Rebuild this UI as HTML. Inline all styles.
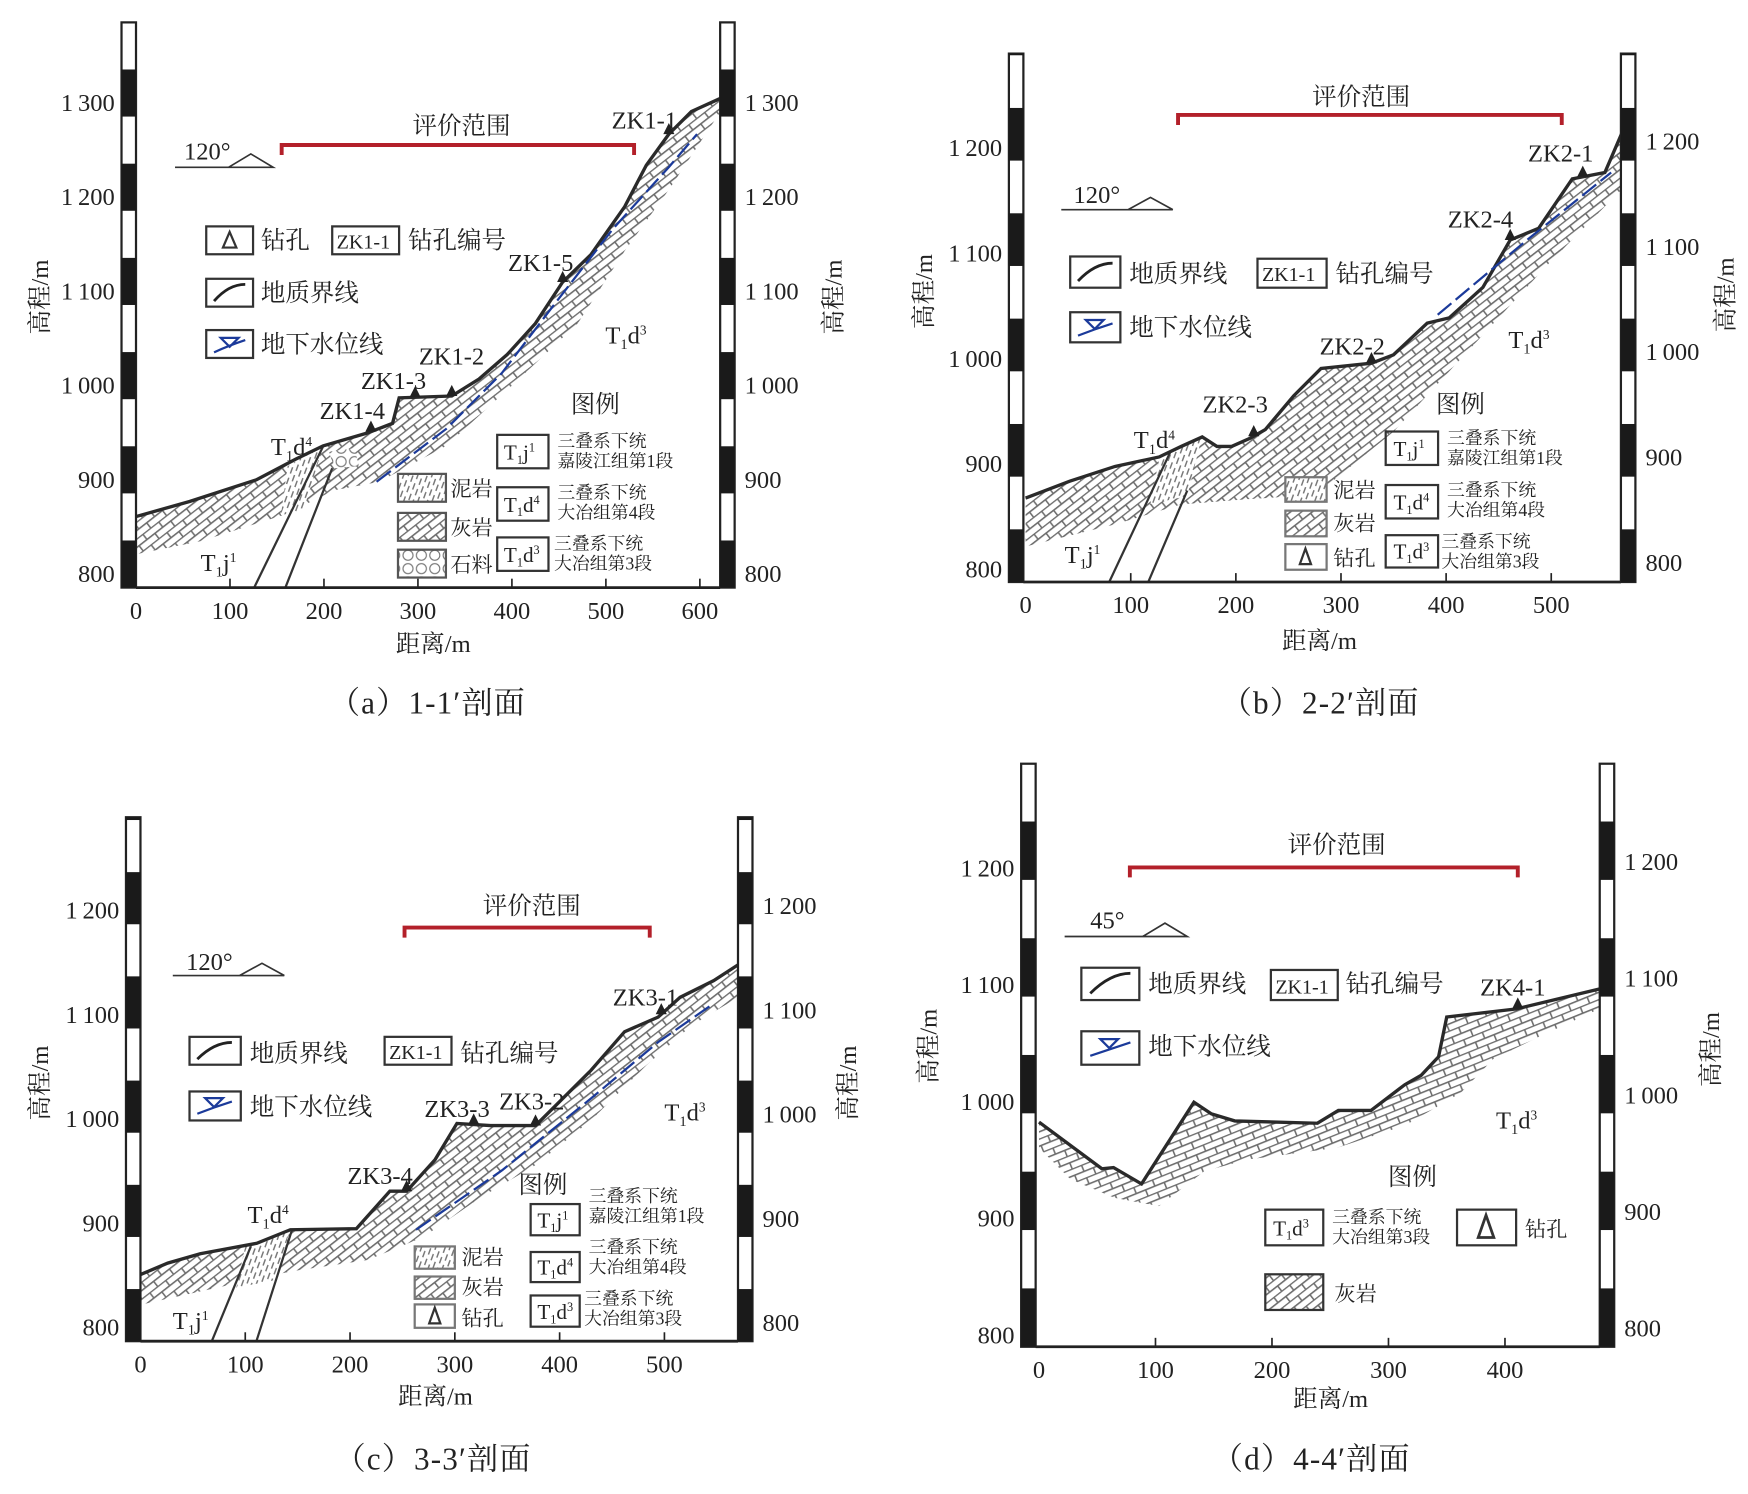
<!DOCTYPE html>
<html><head><meta charset="utf-8"><style>
html,body{margin:0;padding:0;background:#fff}
svg{display:block}
text{font-family:"Liberation Serif","Noto Serif CJK SC",serif;fill:#222}
.t{font-size:22px}
.c{font-family:"Liberation Serif","Noto Serif CJK SC",serif;font-size:22px}
.s{font-size:16px}
.cap{font-size:28px;letter-spacing:1px}
</style></head><body>
<svg id="fig" width="1748" height="1494" viewBox="0 0 1568 1340" xmlns="http://www.w3.org/2000/svg">
<defs>
<pattern id="lime" width="18" height="12" patternUnits="userSpaceOnUse" patternTransform="rotate(-38)">
<rect width="18" height="12" fill="#fff"/><path d="M0 0.5H18M0 6.5H18M4 0.5V6.5M13 6.5V12" stroke="#6e6e6e" stroke-width="1.4" fill="none"/></pattern>
<pattern id="limed" width="18" height="12" patternUnits="userSpaceOnUse" patternTransform="rotate(-22)">
<rect width="18" height="12" fill="#fff"/><path d="M0 0.5H18M0 6.5H18M4 0.5V6.5M13 6.5V12" stroke="#6e6e6e" stroke-width="1.4" fill="none"/></pattern>
<pattern id="mud" width="8" height="10" patternUnits="userSpaceOnUse" patternTransform="rotate(20)">
<rect width="8" height="10" fill="#fff"/><path d="M2 0V6M6 4V10" stroke="#777" stroke-width="1.3"/></pattern>
<pattern id="stone" width="12" height="12" patternUnits="userSpaceOnUse">
<rect width="12" height="12" fill="#fff"/><circle cx="6" cy="6" r="4.5" stroke="#777" fill="none"/></pattern>
</defs>
<g id="root"></g>

<g>
<text class="cap" x="295" y="640">（a）1-1′剖面</text>
<text class="t" x="355" y="585">距离/m</text>
<text class="t" transform="translate(43,300) rotate(-90)">高程/m</text>
<text class="t" transform="translate(755,300) rotate(-90)">高程/m</text>
<text class="t" x="370" y="120">评价范围</text>
<text class="t" x="165" y="143">120°</text>
<path d="M157 150H245L225 138L205 150" stroke="#333" fill="none" stroke-width="1.5"/>
<rect x="185" y="203" width="42" height="25" fill="none" stroke="#333" stroke-width="2"/>
<path d="M206 208L200 222H212Z" fill="none" stroke="#333" stroke-width="2"/>
<text class="t" x="234" y="223">钻孔</text>
<rect x="298" y="203" width="60" height="25" fill="none" stroke="#333" stroke-width="2"/>
<text x="302" y="223" style="font-size:18px">ZK1-1</text>
<text class="t" x="366" y="223">钻孔编号</text>
<rect x="185" y="250" width="42" height="25" fill="none" stroke="#333" stroke-width="2"/>
<path d="M192 270Q205 255 220 255" stroke="#222" stroke-width="2.5" fill="none"/>
<text class="t" x="234" y="270">地质界线</text>
<rect x="185" y="296" width="42" height="25" fill="none" stroke="#333" stroke-width="2"/>
<path d="M192 316Q205 310 220 305M198 303H214L206 311Z" stroke="#1b3a9a" stroke-width="2" fill="none"/>
<text class="t" x="234" y="316">地下水位线</text>
<text x="578" y="115" class="t" text-anchor="middle">ZK1-1</text>
<text x="485" y="243" class="t" text-anchor="middle">ZK1-5</text>
<text x="405" y="327" class="t" text-anchor="middle">ZK1-2</text>
<text x="353" y="349" class="t" text-anchor="middle">ZK1-3</text>
<text x="316" y="376" class="t" text-anchor="middle">ZK1-4</text>
<text x="243" y="408" class="t">T<tspan font-size="13" dy="5">1</tspan><tspan dy="-5">d</tspan><tspan font-size="12" dy="-8">4</tspan></text>
<text x="180" y="512" class="t">T<tspan font-size="13" dy="5">1</tspan><tspan dy="-5">j</tspan><tspan font-size="12" dy="-8">1</tspan></text>
<text x="543" y="308" class="t">T<tspan font-size="13" dy="5">1</tspan><tspan dy="-5">d</tspan><tspan font-size="12" dy="-8">3</tspan></text>
<text x="512" y="370" class="t">图例</text>
<rect x="446" y="390" width="46" height="30" fill="none" stroke="#333" stroke-width="2"/><text x="452" y="412" style="font-size:19px">T<tspan font-size="11" dy="4">1</tspan><tspan dy="-4">j</tspan><tspan font-size="11" dy="-7">1</tspan></text>
<text class="s" x="500" y="401">三叠系下统</text><text class="s" x="500" y="419">嘉陵江组第1段</text>
<rect x="446" y="437" width="46" height="30" fill="none" stroke="#333" stroke-width="2"/><text x="452" y="459" style="font-size:19px">T<tspan font-size="11" dy="4">1</tspan><tspan dy="-4">d</tspan><tspan font-size="11" dy="-7">4</tspan></text>
<text class="s" x="500" y="447">三叠系下统</text><text class="s" x="500" y="465">大冶组第4段</text>
<rect x="446" y="482" width="46" height="30" fill="none" stroke="#333" stroke-width="2"/><text x="452" y="504" style="font-size:19px">T<tspan font-size="11" dy="4">1</tspan><tspan dy="-4">d</tspan><tspan font-size="11" dy="-7">3</tspan></text>
<text class="s" x="497" y="493">三叠系下统</text><text class="s" x="497" y="511">大冶组第3段</text>
<rect x="357" y="425" width="43" height="25" fill="url(#mud)" stroke="#555" stroke-width="2"/><text class="c" x="404" y="445" style="font-size:19px">泥岩</text>
<rect x="357" y="460" width="43" height="25" fill="url(#lime)" stroke="#555" stroke-width="2"/><text class="c" x="404" y="480" style="font-size:19px">灰岩</text>
<rect x="357" y="493" width="43" height="25" fill="url(#stone)" stroke="#555" stroke-width="2"/><text class="c" x="404" y="513" style="font-size:19px">石料</text>
</g>

<g>
<text class="cap" x="1095" y="640">（b）2-2′剖面</text>
<text class="t" x="1150" y="582">距离/m</text>
<text class="t" transform="translate(836,295) rotate(-90)">高程/m</text>
<text class="t" transform="translate(1555,298) rotate(-90)">高程/m</text>
<text class="t" x="1177" y="94">评价范围</text>
<text class="t" x="963" y="182">120°</text>
<path d="M952 188H1052L1032 177L1012 188" stroke="#333" fill="none" stroke-width="1.5"/>
<rect x="960" y="230" width="45" height="28" fill="none" stroke="#333" stroke-width="2"/>
<path d="M967 252Q982 236 998 236" stroke="#222" stroke-width="2.5" fill="none"/>
<text class="t" x="1013" y="253">地质界线</text>
<rect x="1128" y="232" width="62" height="26" fill="none" stroke="#333" stroke-width="2"/>
<text x="1132" y="252" style="font-size:18px">ZK1-1</text>
<text class="t" x="1198" y="253">钻孔编号</text>
<rect x="960" y="280" width="45" height="27" fill="none" stroke="#333" stroke-width="2"/>
<path d="M967 301Q982 295 998 290M974 287H990L982 295Z" stroke="#1b3a9a" stroke-width="2" fill="none"/>
<text class="t" x="1013" y="301">地下水位线</text>
<text x="1400" y="145" class="t" text-anchor="middle">ZK2-1</text>
<text x="1328" y="204" class="t" text-anchor="middle">ZK2-4</text>
<text x="1213" y="318" class="t" text-anchor="middle">ZK2-2</text>
<text x="1108" y="370" class="t" text-anchor="middle">ZK2-3</text>
<text x="1017" y="402" class="t">T<tspan font-size="13" dy="5">1</tspan><tspan dy="-5">d</tspan><tspan font-size="12" dy="-8">4</tspan></text>
<text x="955" y="505" class="t">T<tspan font-size="13" dy="5">1</tspan><tspan dy="-5">j</tspan><tspan font-size="12" dy="-8">1</tspan></text>
<text x="1353" y="312" class="t">T<tspan font-size="13" dy="5">1</tspan><tspan dy="-5">d</tspan><tspan font-size="12" dy="-8">3</tspan></text>
<text x="1288" y="370" class="t">图例</text>
<rect x="1243" y="387" width="47" height="30" fill="none" stroke="#333" stroke-width="2"/><text x="1250" y="409" style="font-size:19px">T<tspan font-size="11" dy="4">1</tspan><tspan dy="-4">j</tspan><tspan font-size="11" dy="-7">1</tspan></text>
<text class="s" x="1298" y="398">三叠系下统</text><text class="s" x="1298" y="416">嘉陵江组第1段</text>
<rect x="1243" y="435" width="47" height="30" fill="none" stroke="#333" stroke-width="2"/><text x="1250" y="457" style="font-size:19px">T<tspan font-size="11" dy="4">1</tspan><tspan dy="-4">d</tspan><tspan font-size="11" dy="-7">4</tspan></text>
<text class="s" x="1298" y="445">三叠系下统</text><text class="s" x="1298" y="463">大冶组第4段</text>
<rect x="1243" y="480" width="47" height="29" fill="none" stroke="#333" stroke-width="2"/><text x="1250" y="501" style="font-size:19px">T<tspan font-size="11" dy="4">1</tspan><tspan dy="-4">d</tspan><tspan font-size="11" dy="-7">3</tspan></text>
<text class="s" x="1293" y="491">三叠系下统</text><text class="s" x="1293" y="509">大冶组第3段</text>
<rect x="1153" y="428" width="37" height="22" fill="url(#mud)" stroke="#777" stroke-width="2"/><text class="c" x="1196" y="446" style="font-size:19px">泥岩</text>
<rect x="1153" y="458" width="37" height="23" fill="url(#lime)" stroke="#777" stroke-width="2"/><text class="c" x="1196" y="476" style="font-size:19px">灰岩</text>
<rect x="1153" y="488" width="37" height="23" fill="none" stroke="#777" stroke-width="2"/><path d="M1171 492L1166 506H1176Z" fill="none" stroke="#333" stroke-width="2"/><text class="c" x="1196" y="507" style="font-size:19px">钻孔</text>
</g>

<g>
<text class="cap" x="300" y="1318">（c）3-3′剖面</text>
<text class="t" x="357" y="1260">距离/m</text>
<text class="t" transform="translate(43,1005) rotate(-90)">高程/m</text>
<text class="t" transform="translate(768,1005) rotate(-90)">高程/m</text>
<text class="t" x="433" y="820">评价范围</text>
<text class="t" x="167" y="870">120°</text>
<path d="M155 875H255L235 864L215 875" stroke="#333" fill="none" stroke-width="1.5"/>
<rect x="170" y="930" width="46" height="25" fill="none" stroke="#333" stroke-width="2"/>
<path d="M177 950Q192 935 208 935" stroke="#222" stroke-width="2.5" fill="none"/>
<text class="t" x="224" y="952">地质界线</text>
<rect x="345" y="930" width="60" height="25" fill="none" stroke="#333" stroke-width="2"/>
<text x="349" y="950" style="font-size:18px">ZK1-1</text>
<text class="t" x="413" y="952">钻孔编号</text>
<rect x="170" y="979" width="46" height="26" fill="none" stroke="#333" stroke-width="2"/>
<path d="M177 999Q192 993 208 988M184 985H200L192 993Z" stroke="#1b3a9a" stroke-width="2" fill="none"/>
<text class="t" x="224" y="1000">地下水位线</text>
<text x="579" y="902" class="t" text-anchor="middle">ZK3-1</text>
<text x="477" y="995" class="t" text-anchor="middle">ZK3-2</text>
<text x="410" y="1002" class="t" text-anchor="middle">ZK3-3</text>
<text x="341" y="1062" class="t" text-anchor="middle">ZK3-4</text>
<text x="222" y="1097" class="t">T<tspan font-size="13" dy="5">1</tspan><tspan dy="-5">d</tspan><tspan font-size="12" dy="-8">4</tspan></text>
<text x="155" y="1192" class="t">T<tspan font-size="13" dy="5">1</tspan><tspan dy="-5">j</tspan><tspan font-size="12" dy="-8">1</tspan></text>
<text x="596" y="1005" class="t">T<tspan font-size="13" dy="5">1</tspan><tspan dy="-5">d</tspan><tspan font-size="12" dy="-8">3</tspan></text>
<text x="465" y="1070" class="t">图例</text>
<rect x="476" y="1080" width="44" height="28" fill="none" stroke="#333" stroke-width="2"/><text x="482" y="1101" style="font-size:19px">T<tspan font-size="11" dy="4">1</tspan><tspan dy="-4">j</tspan><tspan font-size="11" dy="-7">1</tspan></text>
<text class="s" x="528" y="1078">三叠系下统</text><text class="s" x="528" y="1096">嘉陵江组第1段</text>
<rect x="476" y="1123" width="44" height="27" fill="none" stroke="#333" stroke-width="2"/><text x="482" y="1143" style="font-size:19px">T<tspan font-size="11" dy="4">1</tspan><tspan dy="-4">d</tspan><tspan font-size="11" dy="-7">4</tspan></text>
<text class="s" x="528" y="1124">三叠系下统</text><text class="s" x="528" y="1142">大冶组第4段</text>
<rect x="476" y="1162" width="44" height="28" fill="none" stroke="#333" stroke-width="2"/><text x="482" y="1183" style="font-size:19px">T<tspan font-size="11" dy="4">1</tspan><tspan dy="-4">d</tspan><tspan font-size="11" dy="-7">3</tspan></text>
<text class="s" x="524" y="1170">三叠系下统</text><text class="s" x="524" y="1188">大冶组第3段</text>
<rect x="372" y="1118" width="36" height="20" fill="url(#mud)" stroke="#777" stroke-width="2"/><text class="c" x="414" y="1134" style="font-size:19px">泥岩</text>
<rect x="372" y="1145" width="36" height="20" fill="url(#lime)" stroke="#777" stroke-width="2"/><text class="c" x="414" y="1161" style="font-size:19px">灰岩</text>
<rect x="372" y="1170" width="36" height="21" fill="none" stroke="#777" stroke-width="2"/><path d="M390 1173L385 1187H395Z" fill="none" stroke="#333" stroke-width="2"/><text class="c" x="414" y="1189" style="font-size:19px">钻孔</text>
</g>

<g>
<text class="cap" x="1087" y="1318">（d）4-4′剖面</text>
<text class="t" x="1160" y="1262">距离/m</text>
<text class="t" transform="translate(840,972) rotate(-90)">高程/m</text>
<text class="t" transform="translate(1542,975) rotate(-90)">高程/m</text>
<text class="t" x="1155" y="765">评价范围</text>
<text class="t" x="978" y="833">45°</text>
<path d="M955 840H1065L1045 828L1025 840" stroke="#333" fill="none" stroke-width="1.5"/>
<rect x="970" y="868" width="52" height="29" fill="none" stroke="#333" stroke-width="2"/>
<path d="M978 891Q996 873 1014 873" stroke="#222" stroke-width="2.5" fill="none"/>
<text class="t" x="1030" y="890">地质界线</text>
<rect x="1140" y="870" width="60" height="27" fill="none" stroke="#333" stroke-width="2"/>
<text x="1144" y="891" style="font-size:18px">ZK1-1</text>
<text class="t" x="1207" y="890">钻孔编号</text>
<rect x="970" y="925" width="52" height="30" fill="none" stroke="#333" stroke-width="2"/>
<path d="M978 947Q996 941 1014 935M987 932H1003L995 940Z" stroke="#1b3a9a" stroke-width="2" fill="none"/>
<text class="t" x="1030" y="946">地下水位线</text>
<text x="1357" y="893" class="t" text-anchor="middle">ZK4-1</text>
<text x="1342" y="1012" class="t">T<tspan font-size="13" dy="5">1</tspan><tspan dy="-5">d</tspan><tspan font-size="12" dy="-8">3</tspan></text>
<text x="1245" y="1063" class="t">图例</text>
<rect x="1135" y="1085" width="52" height="32" fill="none" stroke="#333" stroke-width="2"/><text x="1142" y="1108" style="font-size:19px">T<tspan font-size="11" dy="4">1</tspan><tspan dy="-4">d</tspan><tspan font-size="11" dy="-7">3</tspan></text>
<text class="s" x="1195" y="1097">三叠系下统</text><text class="s" x="1195" y="1115">大冶组第3段</text>
<rect x="1307" y="1085" width="53" height="32" fill="none" stroke="#333" stroke-width="2"/><path d="M1333 1090L1326 1110H1340Z" fill="none" stroke="#333" stroke-width="2.5"/><text class="c" x="1368" y="1109" style="font-size:19px">钻孔</text>
<rect x="1135" y="1143" width="52" height="32" fill="url(#lime)" stroke="#333" stroke-width="2"/><text class="c" x="1197" y="1167" style="font-size:19px">灰岩</text>
</g>
</svg>

<script>
// ---- Panel A data ----
const aGroundDist=[0,57,128,170,199,247,273,280,336,365,395,425,454,484,520,543,567,591,622];
const aGroundElev=[860,876,899,921,935,949,959,986,988,1006,1032,1065,1109,1138,1189,1233,1266,1290,1304];
const aLowerDist=[0,69,158,211,259,330,401,470,520,567,622];
const aLowerElev=[820,834,862,888,897,935,1000,1065,1142,1207,1290];
const aWaterDist=[256,330,389,448,508,567,597];
const aWaterElev=[897,953,1012,1089,1166,1231,1266];
const aBoreDist=[567,454,336,297,250];
const aRange=[155,530];
const aXTicks=[0,100,200,300,400,500,600];
const aYTicks=[800,900,1000,1100,1200,1300];
// ---- Panel B data ----
const bGroundDist=[0,42,85,127,148,168,182,196,214,228,255,281,329,350,382,403,435,461,488,520,551,567];
const bGroundElev=[867,883,897,906,916,925,916,916,924,932,964,990,995,1003,1033,1038,1067,1112,1123,1170,1176,1213];
const bLowerDist=[0,85,148,212,276,350,424,498,567];
const bLowerElev=[821,842,861,866,870,930,1010,1090,1160];
const bWaterDist=[392,477,557];
const bWaterElev=[1041,1112,1176];
const bBoreDist=[530,461,329,217];
const bRange=[145,510];
const bXTicks=[0,100,200,300,400,500];
const bYTicks=[800,900,1000,1100,1200];
// ---- Panel C data ----
const cGroundDist=[0,26,57,111,143,206,222,238,254,281,302,334,377,398,430,462,494,515,547,570];
const cGroundElev=[850,861,870,880,893,894,912,930,930,960,995,993,993,1014,1046,1083,1097,1116,1132,1147];
const cLowerDist=[0,143,217,270,323,377,430,483,526,570];
const cLowerElev=[821,853,864,886,923,955,998,1051,1089,1116];
const cWaterDist=[263,345,430,494,544];
const cWaterElev=[893,950,1019,1073,1108];
const cBoreDist=[497,377,318,254];
const cRange=[252,486];
const cXTicks=[0,100,200,300,400,500];
const cYTicks=[800,900,1000,1100,1200];
// ---- Panel D data ----
const dGroundDist=[0,54,64,88,133,148,168,239,257,285,314,328,343,350,410,481];
const dGroundElev=[982,942,943,929,999,989,983,981,992,992,1014,1022,1038,1072,1079,1096];
const dLowerDist=[0,27,65,103,142,180,256,314,362,390,429,481];
const dLowerElev=[960,933,917,910,940,950,960,979,1007,1036,1055,1079];
const dBoreDist=[411];
const dRange=[78,411];
const dXTicks=[0,100,200,300,400];
const dYTicks=[800,900,1000,1100,1200];

const NS='http://www.w3.org/2000/svg';
const root=document.getElementById('root');
function mk(tag,attrs,parent){const e=document.createElementNS(NS,tag);for(const k in attrs)e.setAttribute(k,attrs[k]);(parent||root).appendChild(e);return e;}
function interp(xs,ys,x){for(let i=0;i<xs.length-1;i++){if(x>=xs[i]&&x<=xs[i+1]){return ys[i]+(ys[i+1]-ys[i])*(x-xs[i])/(xs[i+1]-xs[i]);}}return ys[ys.length-1];}

function drawPanel(cfg){
  const X=d=>cfg.x0+d*cfg.kx, Y=e=>cfg.y0-(e-800)*cfg.ky;
  const g=mk('g',{});
  
  
  let pts=cfg.gd.map((d,i)=>X(d)+','+Y(cfg.ge[i]));
  for(let i=cfg.ld.length-1;i>=0;i--)pts.push(X(cfg.ld[i])+','+Y(cfg.le[i]));
  const band=mk('polygon',{points:pts.join(' '),fill:cfg.pat,stroke:'none'},g);
  
  
  if(cfg.extra)cfg.extra(g,X,Y);
  const gl=mk('polyline',{points:cfg.gd.map((d,i)=>X(d)+','+Y(cfg.ge[i])).join(' '),fill:'none',stroke:'#2a2a2a','stroke-width':3},g);
  
  
  if(cfg.wd){
    const wl=mk('polyline',{points:cfg.wd.map((d,i)=>X(d)+','+Y(cfg.we[i])).join(' '),fill:'none',stroke:'#1b3a9a','stroke-width':2,'stroke-dasharray':'16 5'},g);
    
    
  }
  cfg.bores.forEach((d)=>{
    const x=X(d),y=Y(interp(cfg.gd,cfg.ge,d));
    const t=mk('path',{d:`M${x} ${y-10}L${x-5} ${y}H${x+5}Z`,fill:'#222'},g);
    
    
  });
  const r0=X(cfg.range[0]),r1=X(cfg.range[1]);
  const rb=mk('path',{d:`M${r0} ${cfg.ry+9}V${cfg.ry}H${r1}V${cfg.ry+9}`,fill:'none',stroke:'#b3202a','stroke-width':3.5},g);
  
  
  [cfg.lb,cfg.rb].forEach((bx,side)=>{
    const fr=mk('rect',{x:bx,y:cfg.top,width:13,height:cfg.bot-cfg.top,fill:'#fff',stroke:'#222','stroke-width':2},g);
    
    
    const seg=50*cfg.ky;let y=cfg.bot,black=true;
    while(y>cfg.top){const h=Math.min(seg,y-cfg.top);if(black){const s=mk('rect',{x:bx,y:y-h,width:13,height:h,fill:'#1a1a1a'},g);}y-=seg;black=!black;}
  });
  const ax=mk('line',{x1:cfg.lb+13,x2:cfg.rb,y1:cfg.bot,y2:cfg.bot,stroke:'#222','stroke-width':2.5},g);
  
  
  cfg.xt.forEach(v=>{
    const x=X(v);
    if(v>0){const tk=mk('line',{x1:x,x2:x,y1:cfg.bot,y2:cfg.bot-8,stroke:'#222','stroke-width':1.5},g);}
    const t=mk('text',{x:x,y:cfg.bot+28,'text-anchor':'middle',class:'t'},g);t.textContent=v;
    
    
  });
  cfg.yt.forEach(v=>{
    const lab=v>=1000?(String(v)[0]+'\u2009'+String(v).slice(1)):String(v);
    const t=mk('text',{x:cfg.lb-6,y:Y(v)+8,'text-anchor':'end',class:'t'},g);t.textContent=lab;
    
    
    const t2=mk('text',{x:cfg.rb+22,y:Y(v)+8+cfg.rOff,'text-anchor':'start',class:'t'},g);t2.textContent=lab;
    
    
  });
}

drawPanel({id:'a',x0:122,kx:0.843,y0:514,ky:0.845,top:20,bot:527,lb:109,rb:646,ry:130,rOff:0,pat:'url(#lime)',
  gd:aGroundDist,ge:aGroundElev,ld:aLowerDist,le:aLowerElev,wd:aWaterDist,we:aWaterElev,bores:aBoreDist,range:aRange,xt:aXTicks,yt:aYTicks,
  extra:(g,X,Y)=>{
    mk('polygon',{points:'258,418 290,400 272,458 252,462',fill:'url(#mud)'},g);
    mk('polygon',{points:'295,405 318,402 322,418 300,420',fill:'url(#stone)'},g);
    mk('line',{x1:228,y1:527,x2:290,y2:400,stroke:'#333','stroke-width':2},g);
    mk('line',{x1:256,y1:527,x2:298,y2:420,stroke:'#333','stroke-width':2},g);
  }});
drawPanel({id:'b',x0:920,kx:0.943,y0:510,ky:0.945,top:48,bot:522,lb:905,rb:1454,ry:103,rOff:-6,pat:'url(#lime)',
  gd:bGroundDist,ge:bGroundElev,ld:bLowerDist,le:bLowerElev,wd:bWaterDist,we:bWaterElev,bores:bBoreDist,range:bRange,xt:bXTicks,yt:bYTicks,
  extra:(g,X,Y)=>{
    mk('polygon',{points:'1040,410 1078,392 1065,445 1032,452',fill:'url(#mud)'},g);
    mk('line',{x1:995,y1:522,x2:1050,y2:405,stroke:'#333','stroke-width':2},g);
    mk('line',{x1:1030,y1:522,x2:1065,y2:440,stroke:'#333','stroke-width':2},g);
  }});
drawPanel({id:'c',x0:126,kx:0.94,y0:1190,ky:0.935,top:733,bot:1203,lb:113,rb:662,ry:832,rOff:-4,pat:'url(#lime)',
  gd:cGroundDist,ge:cGroundElev,ld:cLowerDist,le:cLowerElev,wd:cWaterDist,we:cWaterElev,bores:cBoreDist,range:cRange,xt:cXTicks,yt:cYTicks,
  extra:(g,X,Y)=>{
    mk('polygon',{points:'220,1118 260,1103 248,1148 212,1155',fill:'url(#mud)'},g);
    mk('line',{x1:190,y1:1203,x2:225,y2:1118,stroke:'#333','stroke-width':2},g);
    mk('line',{x1:230,y1:1203,x2:262,y2:1103,stroke:'#333','stroke-width':2},g);
  }});
drawPanel({id:'d',x0:932,kx:1.045,y0:1197,ky:1.047,top:685,bot:1208,lb:916,rb:1435,ry:778,rOff:-6,pat:'url(#limed)',
  gd:dGroundDist,ge:dGroundElev,ld:dLowerDist,le:dLowerElev,wd:null,we:null,bores:dBoreDist,range:dRange,xt:dXTicks,yt:dYTicks});
</script>
</body></html>
